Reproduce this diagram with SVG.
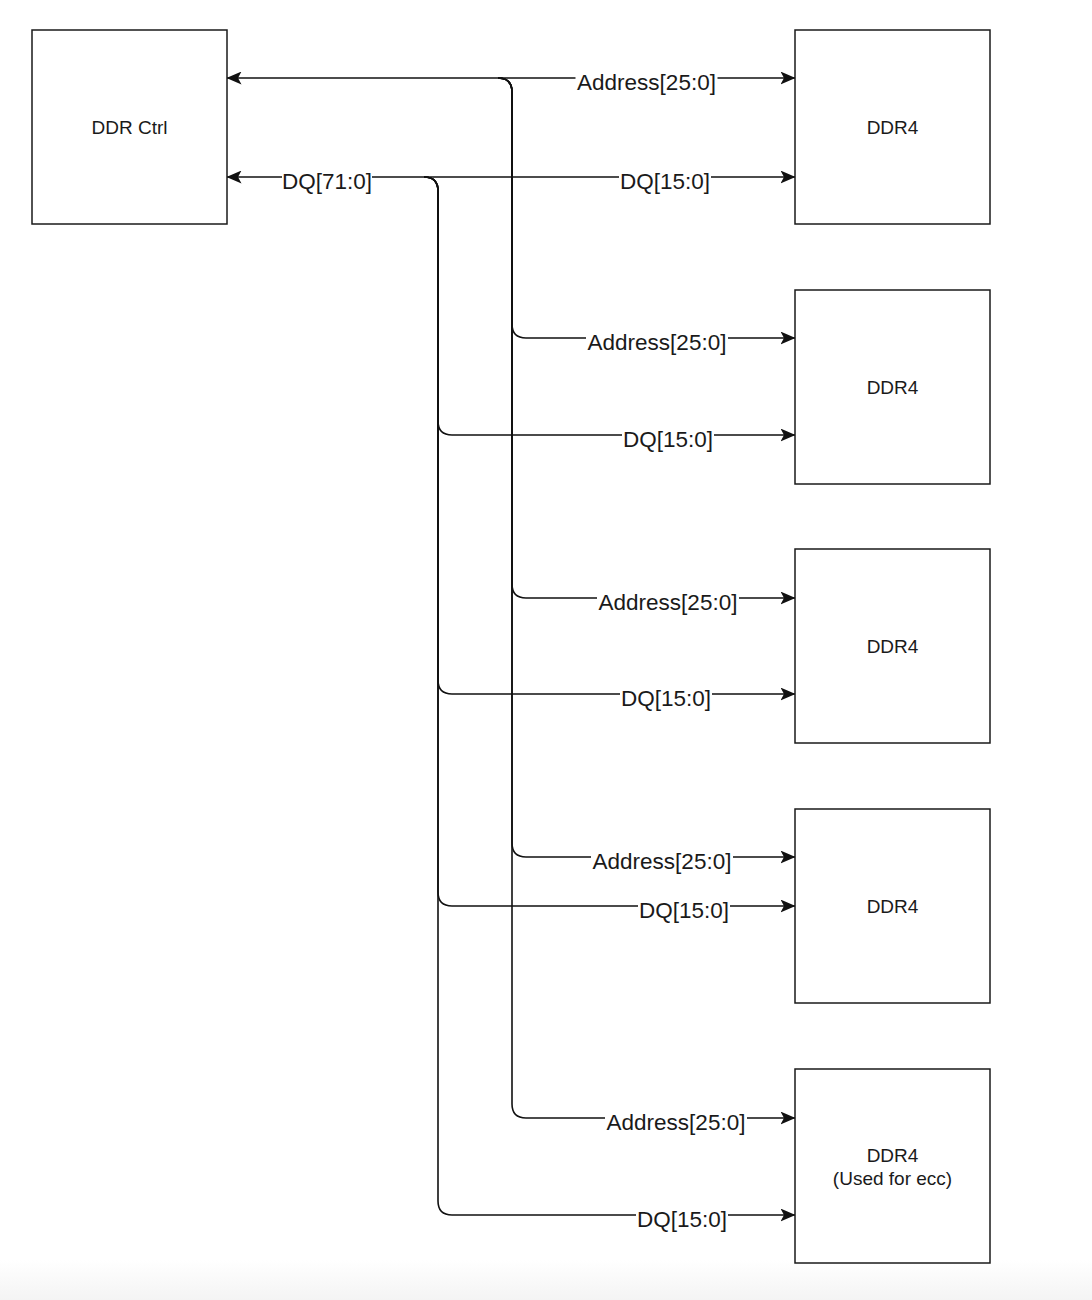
<svg xmlns="http://www.w3.org/2000/svg" width="1092" height="1300" viewBox="0 0 1092 1300">
  <style>
    .box { fill: #ffffff; stroke: #1a1a1a; stroke-width: 1.5; }
    .ntext { font-family: "Liberation Sans", Arial, Helvetica, sans-serif; font-size: 19px; fill: #1a1a1a; text-anchor: middle; }
    .wire { fill: none; stroke: #111111; stroke-width: 1.6; }
    .ltext { font-family: "Liberation Sans", Arial, Helvetica, sans-serif; font-size: 22.5px; fill: #1a1a1a; text-anchor: middle; }
    .lbg { fill: #ffffff; stroke: none; }
  </style>
  <defs>
    <marker id="arrow" viewBox="0 0 15 13" refX="14.5" refY="6.5" markerWidth="15" markerHeight="13" markerUnits="userSpaceOnUse" orient="auto-start-reverse">
      <path d="M0,0 L15,6.5 L0,13 L3.5,6.5 Z" fill="#111111"/>
    </marker>
    <linearGradient id="band" x1="0" y1="0" x2="0" y2="1">
      <stop offset="0" stop-color="#ffffff"/>
      <stop offset="1" stop-color="#f4f4f4"/>
    </linearGradient>
  </defs>
  <rect x="0" y="0" width="1092" height="1300" fill="#ffffff"/>
  <rect x="0" y="1260" width="1092" height="40" fill="url(#band)"/>

  <g id="connectors">
    <!-- Address bus -->
    <path class="wire" d="M227,78 H795" marker-start="url(#arrow)" marker-end="url(#arrow)"/>
    <path class="wire" d="M498,78 Q512,78 512,92 V324 Q512,338 526,338 H795" marker-end="url(#arrow)"/>
    <path class="wire" d="M498,78 Q512,78 512,92 V584 Q512,598 526,598 H795" marker-end="url(#arrow)"/>
    <path class="wire" d="M498,78 Q512,78 512,92 V843 Q512,857 526,857 H795" marker-end="url(#arrow)"/>
    <path class="wire" d="M498,78 Q512,78 512,92 V1104 Q512,1118 526,1118 H795" marker-end="url(#arrow)"/>
    <!-- DQ bus -->
    <path class="wire" d="M227,177 H795" marker-start="url(#arrow)" marker-end="url(#arrow)"/>
    <path class="wire" d="M424,177 Q438,177 438,191 V421 Q438,435 452,435 H795" marker-end="url(#arrow)"/>
    <path class="wire" d="M424,177 Q438,177 438,191 V680 Q438,694 452,694 H795" marker-end="url(#arrow)"/>
    <path class="wire" d="M424,177 Q438,177 438,191 V892 Q438,906 452,906 H795" marker-end="url(#arrow)"/>
    <path class="wire" d="M424,177 Q438,177 438,191 V1201 Q438,1215 452,1215 H795" marker-end="url(#arrow)"/>

    <!-- labels -->
    <rect class="lbg" x="282" y="168" width="90" height="24"/>
    <text class="ltext" x="327" y="189">DQ[71:0]</text>

    <rect class="lbg" x="575.5" y="69" width="142" height="24"/>
    <text class="ltext" x="646.5" y="90">Address[25:0]</text>
    <rect class="lbg" x="619" y="168" width="92" height="24"/>
    <text class="ltext" x="665" y="189">DQ[15:0]</text>

    <rect class="lbg" x="586" y="329" width="142" height="24"/>
    <text class="ltext" x="657" y="350">Address[25:0]</text>
    <rect class="lbg" x="622" y="426" width="92" height="24"/>
    <text class="ltext" x="668" y="447">DQ[15:0]</text>

    <rect class="lbg" x="597" y="589" width="142" height="24"/>
    <text class="ltext" x="668" y="610">Address[25:0]</text>
    <rect class="lbg" x="620" y="685" width="92" height="24"/>
    <text class="ltext" x="666" y="706">DQ[15:0]</text>

    <rect class="lbg" x="591" y="848" width="142" height="24"/>
    <text class="ltext" x="662" y="869">Address[25:0]</text>
    <rect class="lbg" x="638" y="897" width="92" height="24"/>
    <text class="ltext" x="684" y="918">DQ[15:0]</text>

    <rect class="lbg" x="605" y="1109" width="142" height="24"/>
    <text class="ltext" x="676" y="1130">Address[25:0]</text>
    <rect class="lbg" x="636" y="1206" width="92" height="24"/>
    <text class="ltext" x="682" y="1227">DQ[15:0]</text>
  </g>

  <g id="ddr-ctrl">
    <rect class="box" x="32" y="30" width="195" height="194"/>
    <text class="ntext" x="129.5" y="134">DDR Ctrl</text>
  </g>
  <g id="ddr4-1">
    <rect class="box" x="795" y="30" width="195" height="194"/>
    <text class="ntext" x="892.5" y="134">DDR4</text>
  </g>
  <g id="ddr4-2">
    <rect class="box" x="795" y="290" width="195" height="194"/>
    <text class="ntext" x="892.5" y="394">DDR4</text>
  </g>
  <g id="ddr4-3">
    <rect class="box" x="795" y="549" width="195" height="194"/>
    <text class="ntext" x="892.5" y="653">DDR4</text>
  </g>
  <g id="ddr4-4">
    <rect class="box" x="795" y="809" width="195" height="194"/>
    <text class="ntext" x="892.5" y="913">DDR4</text>
  </g>
  <g id="ddr4-ecc">
    <rect class="box" x="795" y="1069" width="195" height="194"/>
    <text class="ntext" x="892.5" y="1162">DDR4</text>
    <text class="ntext" x="892.5" y="1185">(Used for ecc)</text>
  </g>
</svg>
